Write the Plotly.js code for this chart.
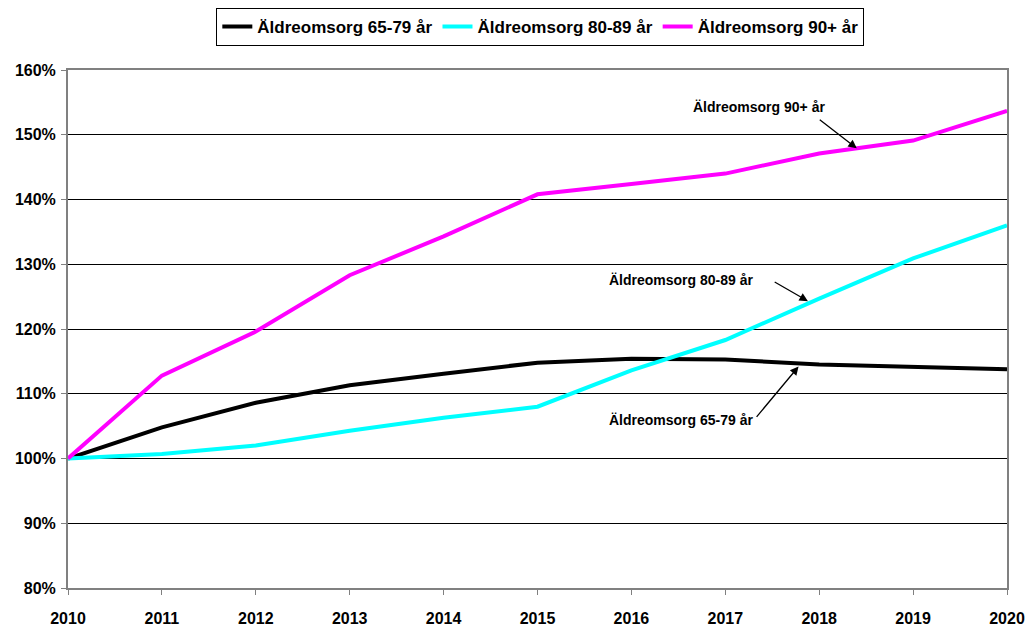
<!DOCTYPE html>
<html>
<head>
<meta charset="utf-8">
<script src="https://cdn.plot.ly/plotly-3.0.1.min.js"></script>
<style>html,body{margin:0;padding:0;background:#fff;}#chart{width:1029px;height:627px;}</style>
</head>
<body>
<div id="chart"></div>
<script>
const years = [2010, 2011, 2012, 2013, 2014, 2015, 2016, 2017, 2018, 2019, 2020];
const seriesNames = ["Äldreomsorg 65-79 år", "Äldreomsorg 80-89 år", "Äldreomsorg 90+ år"];
const age6579 = [100, 104.8, 108.6, 111.3, 113.1, 114.8, 115.4, 115.3, 114.5, 114.1, 113.8];
const age8089 = [100, 100.7, 102.0, 104.3, 106.3, 108.0, 113.6, 118.3, 124.7, 130.9, 136.0];
const age90 = [100, 112.8, 119.6, 128.3, 134.3, 140.8, 142.4, 144.0, 147.1, 149.1, 153.7];
const colors = ["#000000", "#00FFFF", "#FF00FF"];
const yTicks = [80, 90, 100, 110, 120, 130, 140, 150, 160];
const yTickText = ["80%", "90%", "100%", "110%", "120%", "130%", "140%", "150%", "160%"];

const values = [age6579, age8089, age90];
const traces = values.map((v, i) => ({
  x: years, y: v, name: seriesNames[i], type: "scatter", mode: "lines",
  line: {color: colors[i], width: 4}
}));

const font = "Liberation Sans Narrow, Liberation Sans, Arial, sans-serif";
const annFont = {family: font, size: 14, color: "#000"};
const annotations = [
  {x: 2017.36, y: 154.3, text: "<b>Äldreomsorg 90+ år</b>", showarrow: false, font: annFont},
  {x: 2016.53, y: 127.5, text: "<b>Äldreomsorg 80-89 år</b>", showarrow: false, font: annFont},
  {x: 2016.53, y: 106.0, text: "<b>Äldreomsorg 65-79 år</b>", showarrow: false, font: annFont},
  {x: 2018.40, y: 147.9, ax: 2017.99, ay: 152.5, axref: "x", ayref: "y", text: "", showarrow: true, arrowhead: 2, arrowsize: 1.3, arrowwidth: 1.3, arrowcolor: "#000"},
  {x: 2017.88, y: 124.3, ax: 2017.51, ay: 127.4, axref: "x", ayref: "y", text: "", showarrow: true, arrowhead: 2, arrowsize: 1.3, arrowwidth: 1.3, arrowcolor: "#000"},
  {x: 2017.78, y: 114.2, ax: 2017.32, ay: 106.2, axref: "x", ayref: "y", text: "", showarrow: true, arrowhead: 2, arrowsize: 1.3, arrowwidth: 1.3, arrowcolor: "#000"}
];

const layout = {
  width: 1029, height: 627,
  margin: {l: 68, r: 22, t: 70, b: 39, autoexpand: false},
  paper_bgcolor: "#fff", plot_bgcolor: "#fff",
  font: {family: "Liberation Sans, Arial, sans-serif", color: "#000"},
  showlegend: true,
  legend: {
    orientation: "h", x: 0.503, xanchor: "center", y: 1.12, yanchor: "top",
    bordercolor: "#000", borderwidth: 1, bgcolor: "#fff",
    font: {family: font, size: 17, color: "#000", weight: "bold"},
    itemwidth: 30, tracegroupgap: 0
  },
  xaxis: {
    range: [2010, 2020], tickvals: years, ticktext: years.map(String),
    showgrid: false, zeroline: false,
    showline: true, linecolor: "#808080", linewidth: 2, mirror: true,
    ticks: "outside", ticklen: 5, tickcolor: "#808080",
    ticklabelstandoff: 10,
    tickfont: {size: 16, weight: "bold", color: "#000"}
  },
  yaxis: {
    range: [80, 160], tickvals: yTicks, ticktext: yTickText,
    showgrid: true, gridcolor: "#000", gridwidth: 1, zeroline: false,
    showline: true, linecolor: "#808080", linewidth: 2, mirror: true,
    ticks: "outside", ticklen: 5, tickcolor: "#808080",
    ticklabelstandoff: 2,
    tickfont: {size: 16, weight: "bold", color: "#000"}
  },
  annotations: annotations
};

Plotly.newPlot("chart", traces, layout, {displayModeBar: false, staticPlot: true});
</script>
</body>
</html>
